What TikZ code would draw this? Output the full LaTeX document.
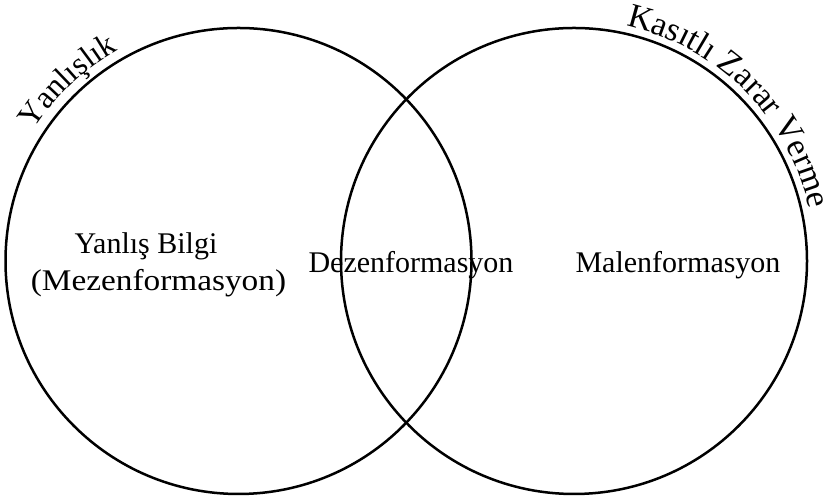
\documentclass[tikz,border=0pt]{standalone}
\usepackage{fontspec}
\setmainfont{Liberation Serif}
\usetikzlibrary{decorations.text}
\begin{document}
\begin{tikzpicture}[x=1pt,y=1pt,
  lbl/.style={font=\fontsize{30}{34}\selectfont, inner sep=0pt, anchor=base},
  ring/.style={draw=black, line width=2.5pt}]
\useasboundingbox (0,0) rectangle (825,502);
\coordinate (cl) at (238.5,241);
\coordinate (cr) at (574,241);
\draw[ring] (cl) circle (233);
\draw[ring] (cr) circle (233);
\node[lbl] (mis1) at (146,248) {Yanlış Bilgi};
\node[lbl] (mis2) at (158.5,211) {\scalebox{1.11}[1]{(Mezenformasyon)}};
\node[lbl] (dis) at (411,229) {Dezenformasyon};
\node[lbl] (mal) at (678,229) {Malenformasyon};
\path[decorate, font=\fontsize{32}{32}\selectfont, decoration={text along path, text align=center,
  text={|\fontsize{32}{32}\selectfont|Yanlışlık}}]
  (cl) ++(166:243) arc (166:101:243);
\path[decorate, font=\fontsize{34}{34}\selectfont, decoration={text along path, text align=center,
  text={|\fontsize{34}{34}\selectfont|Kasıtlı Zarar Verme}}]
  (cr) ++(91:241) arc (91:-1:241);
\end{tikzpicture}
\end{document}
